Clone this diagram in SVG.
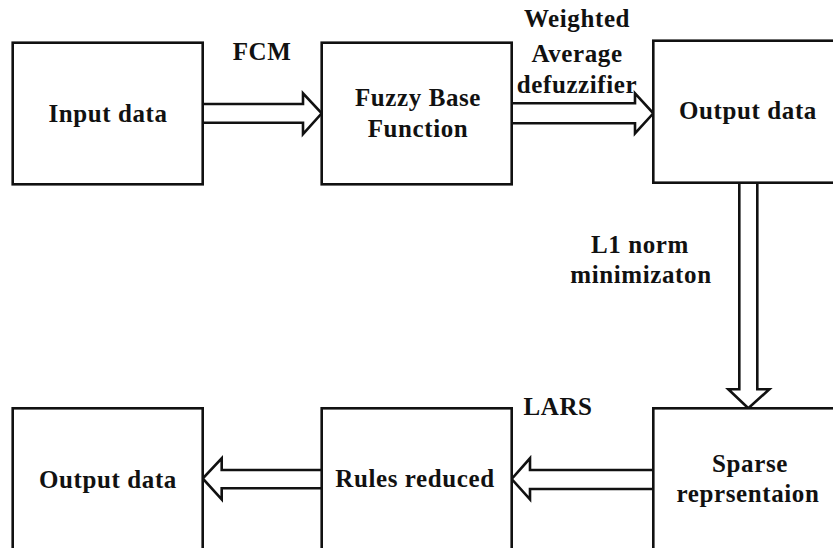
<svg xmlns="http://www.w3.org/2000/svg" width="833" height="548" viewBox="0 0 833 548">
  <style>
    .box { fill: #ffffff; stroke: #111111; stroke-width: 2.6; }
    .arrow { fill: #ffffff; stroke: #111111; stroke-width: 2.6; stroke-linejoin: miter; }
    .lbl { font-family: "Liberation Serif", "Times New Roman", serif; font-weight: bold; font-size: 25px; letter-spacing: 0.6px; fill: #111111; text-anchor: middle; }
  </style>
  <rect width="833" height="548" fill="#ffffff"/>

  <!-- hollow block arrows -->
  <g id="connectors">
    <path class="arrow" d="M202.7,104 L303,104 L303,93.3 L321.7,113.3 L303,134 L303,122.7 L202.7,122.7"/>
    <path class="arrow" d="M511.7,103.3 L635,103.3 L635,93.3 L653.3,113.3 L635,133.3 L635,123.3 L511.7,123.3"/>
    <path class="arrow" d="M739.3,182.7 L739.3,389.3 L728.3,389.3 L748.3,408.3 L769.3,389.3 L757.3,389.3 L757.3,182.7"/>
    <path class="arrow" d="M653.3,470 L530,470 L530,458.3 L511.7,479 L530,499.3 L530,489 L653.3,489"/>
    <path class="arrow" d="M321.7,470 L221.7,470 L221.7,458.3 L202.7,478.5 L221.7,499.3 L221.7,488.3 L321.7,488.3"/>
    <text class="lbl" x="262" y="60">FCM</text>
    <text class="lbl" x="577" y="27">Weighted</text>
    <text class="lbl" x="577" y="62">Average</text>
    <text class="lbl" x="577" y="93">defuzzifier</text>
    <text class="lbl" x="640" y="252.7">L1 norm</text>
    <text class="lbl" x="641" y="283.3">minimizaton</text>
    <text class="lbl" x="558" y="415">LARS</text>
  </g>

  <g id="input-data">
    <rect class="box" x="12.7" y="42.7" width="190" height="141.6"/>
    <text class="lbl" x="108" y="121.7">Input data</text>
  </g>

  <g id="fuzzy-base-function">
    <rect class="box" x="321.7" y="42.7" width="190" height="141.6"/>
    <text class="lbl" x="418" y="106">Fuzzy Base</text>
    <text class="lbl" x="418" y="137">Function</text>
  </g>

  <g id="output-data-top">
    <rect class="box" x="653.3" y="40.7" width="200" height="142"/>
    <text class="lbl" x="748" y="119.3">Output data</text>
  </g>

  <g id="sparse-representation">
    <rect class="box" x="653.3" y="408.3" width="200" height="160"/>
    <text class="lbl" x="750" y="471.7">Sparse</text>
    <text class="lbl" x="748" y="501.7">reprsentaion</text>
  </g>

  <g id="rules-reduced">
    <rect class="box" x="321.7" y="408.3" width="190" height="160"/>
    <text class="lbl" x="415" y="486.7">Rules reduced</text>
  </g>

  <g id="output-data-bottom">
    <rect class="box" x="12.7" y="408.3" width="190" height="160"/>
    <text class="lbl" x="108" y="488.3">Output data</text>
  </g>
</svg>
